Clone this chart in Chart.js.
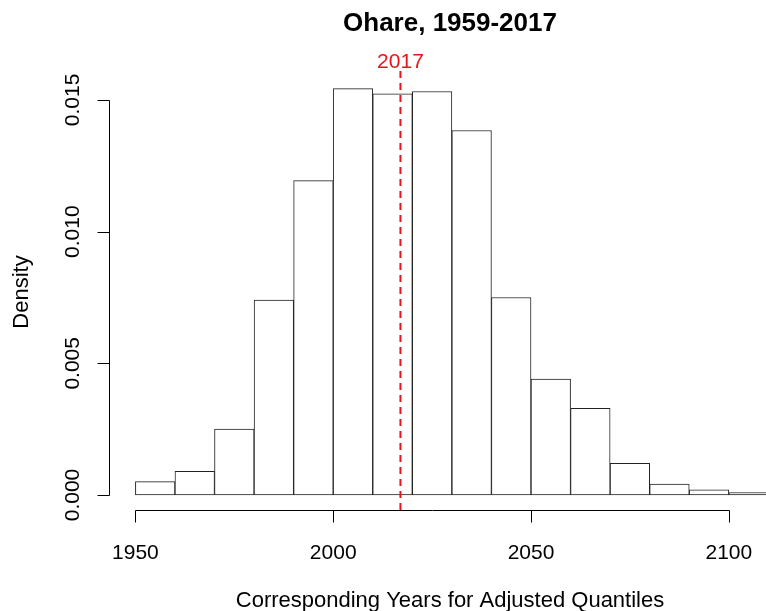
<!DOCTYPE html>
<html>
<head>
<meta charset="utf-8">
<script src="https://cdn.jsdelivr.net/npm/chart.js@4"></script>
<style>
  html, body { margin: 0; padding: 0; background: #fff; overflow: hidden; }
  #wrap { width: 766px; height: 611px; position: relative; }
</style>
</head>
<body>
<div id="wrap"><canvas id="myChart" width="766" height="611"></canvas></div>
<script>
// histogram bins (left edges, width 10 years) and densities
const binStarts = [1950, 1960, 1970, 1980, 1990, 2000, 2010, 2020, 2030, 2040, 2050, 2060, 2070, 2080, 2090, 2100];
const densities = [0.000505, 0.0009, 0.0025, 0.0074, 0.01194, 0.01543, 0.01523, 0.01532, 0.01384, 0.0075, 0.0044, 0.00329, 0.0012, 0.00041, 0.0002, 0.00009];
const binWidth = 10;
const xTicks = [1950, 2000, 2050, 2100];
const yTicks = [0, 0.005, 0.010, 0.015];
const yTickLabels = ["0.000", "0.005", "0.010", "0.015"];
const markYear = 2017;
const markLabel = "2017";
const titleText = "Ohare, 1959-2017";
const xTitle = "Corresponding Years for Adjusted Quantiles";
const yTitle = "Density";

// plot region limits (R style, 4% extension)
const xMin = 1943.58, xMax = 2109.4;
const yMin = -0.00057, yMax = 0.0161;

const fontFam = "'Liberation Sans', Arial, sans-serif";

const rAxes = {
  id: "rAxes",
  afterDraw(chart) {
    const ctx = chart.ctx;
    const x = chart.scales.x;
    const y = chart.scales.y;
    const area = chart.chartArea;
    ctx.save();
    ctx.strokeStyle = "#000";
    ctx.fillStyle = "#000";
    ctx.lineWidth = 1;

    // x axis
    const ax = area.bottom + 0.5;
    ctx.beginPath();
    ctx.moveTo(Math.round(x.getPixelForValue(xTicks[0])) + 0.5, ax);
    ctx.lineTo(Math.round(x.getPixelForValue(xTicks[xTicks.length - 1])) + 0.5, ax);
    for (let t of xTicks) {
      const px = Math.round(x.getPixelForValue(t)) + 0.5;
      ctx.moveTo(px, ax);
      ctx.lineTo(px, ax + 12);
    }
    ctx.stroke();
    ctx.font = "21px " + fontFam;
    ctx.textAlign = "center";
    ctx.textBaseline = "alphabetic";
    for (let t of xTicks) {
      ctx.fillText(String(t), x.getPixelForValue(t), 559);
    }

    // y axis
    const ay = area.left - 0.5;
    ctx.beginPath();
    ctx.moveTo(ay, Math.round(y.getPixelForValue(yTicks[0])) + 0.5);
    ctx.lineTo(ay, Math.round(y.getPixelForValue(yTicks[yTicks.length - 1])) + 0.5);
    for (let t of yTicks) {
      const py = Math.round(y.getPixelForValue(t)) + 0.5;
      ctx.moveTo(ay, py);
      ctx.lineTo(ay - 12, py);
    }
    ctx.stroke();
    yTicks.forEach(function (t, i) {
      ctx.save();
      ctx.translate(79, y.getPixelForValue(t));
      ctx.rotate(-Math.PI / 2);
      ctx.fillText(yTickLabels[i], 0, 0);
      ctx.restore();
    });

    // titles
    ctx.font = "22px " + fontFam;
    ctx.fillText(xTitle, 450, 607);
    ctx.save();
    ctx.translate(28, 292);
    ctx.rotate(-Math.PI / 2);
    ctx.fillText(yTitle, 0, 0);
    ctx.restore();

    ctx.font = "bold 26px " + fontFam;
    ctx.fillText(titleText, 450, 31);

    ctx.fillStyle = "#e8141c";
    ctx.font = "21px " + fontFam;
    ctx.fillText(markLabel, x.getPixelForValue(markYear), 68);
    ctx.restore();
  }
};

function chart() {
  const ctx = document.getElementById("myChart").getContext("2d");
  const bars = [];
  for (let i = 0; i < binStarts.length; i++) {
    bars.push({ x: binStarts[i] + binWidth / 2, y: densities[i] });
  }
  const datasets = [
    {
      type: "line",
      data: [{ x: markYear, y: yMin }, { x: markYear, y: yMax }],
      borderColor: "#e8141c",
      borderWidth: 2,
      borderDash: [7, 5],
      pointRadius: 0,
      fill: false,
      order: 0
    },
    {
      type: "bar",
      data: bars,
      backgroundColor: "#ffffff",
      borderColor: "#222222",
      borderWidth: 1,
      borderSkipped: false,
      barPercentage: 1,
      categoryPercentage: 1,
      order: 1
    }
  ];
  new Chart(ctx, {
    data: { datasets: datasets },
    options: {
      responsive: false,
      animation: false,
      events: [],
      layout: { padding: { left: 110, right: 0, top: 71, bottom: 101 } },
      plugins: { legend: { display: false }, tooltip: { enabled: false }, title: { display: false } },
      scales: {
        x: {
          type: "linear",
          display: false,
          min: xMin,
          max: xMax,
          offset: false,
          afterBuildTicks: function (scale) {
            scale.ticks = xTicks.map(function (v) { return { value: v }; });
          }
        },
        y: {
          type: "linear",
          display: false,
          min: yMin,
          max: yMax
        }
      }
    },
    plugins: [rAxes]
  });
}
chart();
</script>
</body>
</html>
